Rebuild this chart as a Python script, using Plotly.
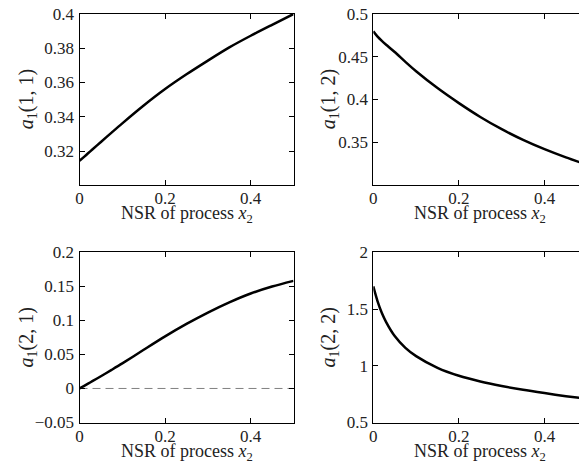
import plotly.graph_objects as go

# Noise-to-signal ratio of process x2
nsr = [0, 0.01, 0.02, 0.03, 0.05, 0.075, 0.1, 0.15, 0.2, 0.25, 0.3, 0.35, 0.4, 0.45, 0.5]

# Estimated coefficients a1(i, j)
a1_11 = [0.3143, 0.3165, 0.3187, 0.3209, 0.3253, 0.3308, 0.3362, 0.3466, 0.3562,
         0.3648, 0.3728, 0.3805, 0.3873, 0.3937, 0.4]
a1_12 = [0.4797, 0.4735, 0.4685, 0.4640, 0.4555, 0.4440, 0.4330, 0.4133, 0.3957,
         0.3795, 0.3652, 0.3527, 0.3418, 0.3322, 0.3235]
a1_21 = [0.0, 0.0035, 0.0071, 0.0107, 0.0180, 0.0273, 0.0368, 0.0568, 0.0765,
         0.0948, 0.1115, 0.1265, 0.1395, 0.1497, 0.1580]
a1_22 = [1.70, 1.568, 1.465, 1.385, 1.262, 1.158, 1.085, 0.982, 0.912,
         0.862, 0.822, 0.788, 0.759, 0.732, 0.708]

x_ticks = [0, 0.2, 0.4]
x_ticktext = ["0", "0.2", "0.4"]
y_ticks_11 = [0.32, 0.34, 0.36, 0.38, 0.4]
y_ticks_12 = [0.35, 0.4, 0.45, 0.5]
y_ticks_21 = [-0.05, 0, 0.05, 0.1, 0.15, 0.2]
y_ticks_22 = [0.5, 1, 1.5, 2]

y_labels = ["<i>a</i><sub>1</sub>(1, 1)", "<i>a</i><sub>1</sub>(1, 2)",
            "<i>a</i><sub>1</sub>(2, 1)", "<i>a</i><sub>1</sub>(2, 2)"]
x_label = "NSR of process <i>x</i><sub>2</sub>"

W, H = 579, 466
FONT = "'Liberation Serif', 'DejaVu Serif', 'Times New Roman', serif"
TEXT = "#222"

# panel frames in pixels: (left, right, top, bottom)
left_x = (79.5, 293.5)
right_x = (373.3, 579.0)
top_y = (14.0, 184.5)
bot_y = (252.3, 422.5)


def xdom(px):
    return [px[0] / W, px[1] / W]


def ydom(py):
    return [1 - py[1] / H, 1 - py[0] / H]


def fmt(v):
    return f"{v:g}".replace("-", "\u2212")


fig = go.Figure()

panels = [
    (a1_11, "x", "y"),
    (a1_12, "x2", "y2"),
    (a1_21, "x3", "y3"),
    (a1_22, "x4", "y4"),
]
for vals, xa, ya in panels:
    fig.add_trace(go.Scatter(
        x=nsr, y=vals, mode="lines", xaxis=xa, yaxis=ya,
        line=dict(color="black", width=2.5, shape="spline", smoothing=0.8),
        showlegend=False, hoverinfo="skip",
    ))

# zero reference line in the a1(2,1) panel
fig.add_trace(go.Scatter(
    x=[0, 0.5], y=[0, 0], mode="lines", xaxis="x3", yaxis="y3",
    line=dict(color="#808080", width=1, dash="8px,5px"),
    showlegend=False, hoverinfo="skip",
))

tick_font = dict(family=FONT, size=17, color=TEXT)


def xaxis_cfg(px, rng, anchor):
    return dict(
        domain=xdom(px), range=rng, anchor=anchor, automargin=False,
        tickvals=x_ticks, ticktext=x_ticktext,
        ticks="inside", ticklen=5, tickwidth=1, tickcolor="black",
        showline=True, linecolor="black", linewidth=1, mirror="ticks",
        showgrid=False, zeroline=False, tickfont=tick_font,
        ticklabelstandoff=-2,
    )


def yaxis_cfg(py, rng, ticks, anchor, mirror):
    return dict(
        domain=ydom(py), range=rng, anchor=anchor, automargin=False,
        tickvals=ticks, ticktext=[fmt(t) for t in ticks],
        ticks="inside", ticklen=5, tickwidth=1, tickcolor="black",
        showline=True, linecolor="black", linewidth=1, mirror=mirror,
        showgrid=False, zeroline=False, tickfont=tick_font,
        ticklabelstandoff=1,
    )


# right-hand panels share the left panels' x scale and run off the edge
x_span_right = (right_x[1] - right_x[0]) / ((left_x[1] - left_x[0]) / 0.5)

fig.update_layout(
    template="none",
    width=W, height=H, autosize=False,
    margin=dict(l=0, r=0, t=0, b=0, pad=0, autoexpand=False),
    paper_bgcolor="white", plot_bgcolor="white",
    font=dict(family=FONT, color=TEXT),
    xaxis=xaxis_cfg(left_x, [0, 0.5], "y"),
    yaxis=yaxis_cfg(top_y, [0.3005, 0.4], y_ticks_11, "x", "ticks"),
    xaxis2=xaxis_cfg(right_x, [0, x_span_right], "y2"),
    yaxis2=yaxis_cfg(top_y, [0.3005, 0.5], y_ticks_12, "x2", False),
    xaxis3=xaxis_cfg(left_x, [0, 0.5], "y3"),
    yaxis3=yaxis_cfg(bot_y, [-0.05, 0.2], y_ticks_21, "x3", "ticks"),
    xaxis4=xaxis_cfg(right_x, [0, x_span_right], "y4"),
    yaxis4=yaxis_cfg(bot_y, [0.5, 2], y_ticks_22, "x4", False),
)

annotations = []
label_x = [27, 329, 27, 329]
frames = [(left_x, top_y), (right_x, top_y), (left_x, bot_y), (right_x, bot_y)]
for lab, lx, (fx, fy) in zip(y_labels, label_x, frames):
    annotations.append(dict(
        text=lab, xref="paper", yref="paper",
        x=lx / W, y=1 - (fy[0] + fy[1]) / 2 / H,
        xanchor="center", yanchor="middle", textangle=-90, showarrow=False,
        font=dict(family=FONT, size=20, color=TEXT),
    ))
xlabel_cx = [186.5, 480.3, 186.5, 480.3]
for cx, (fx, fy) in zip(xlabel_cx, frames):
    annotations.append(dict(
        text=x_label, xref="paper", yref="paper",
        x=cx / W, y=1 - (fy[1] + 30) / H,
        xanchor="center", yanchor="middle", showarrow=False,
        font=dict(family=FONT, size=18, color=TEXT),
    ))
fig.update_layout(annotations=annotations)

fig.write_html("out.html")
